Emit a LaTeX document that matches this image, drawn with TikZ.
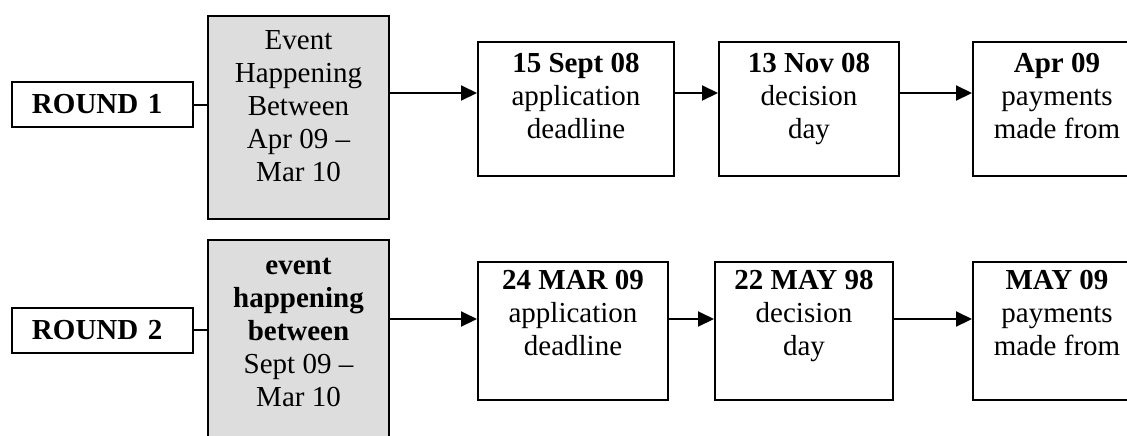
\documentclass[tikz,border=0pt]{standalone}
\usepackage{fontspec}
\setmainfont{Liberation Serif}
\usetikzlibrary{arrows.meta,positioning}
\definecolor{eventgrey}{RGB}{221,221,221}

\begin{document}
\begin{tikzpicture}[
  x=0.5pt, y=-0.5pt,
  font=\fontsize{14.5}{16.5}\selectfont,
  round/.style={draw, line width=1pt, minimum height=22.5pt, text width=70.5pt,
                inner xsep=10pt, inner ysep=0pt, align=left,
                font=\fontsize{14.5}{16.5}\selectfont\bfseries},
  event/.style={draw, line width=1pt, fill=eventgrey, minimum width=90.5pt,
                minimum height=101.5pt},
  datebox/.style={draw, line width=1pt, minimum height=67pt},
  boxtext/.style={align=center, inner sep=0pt, anchor=base},
  link/.style={line width=1pt},
  flow/.style={-{Triangle[length=8pt,width=7.5pt]}, line width=1pt}
]
  \useasboundingbox (0,0) rectangle (1127,435);

  % round 1 (text anchored on the baseline of its last line)
  \node[round] (r1) at (102.5,104.5) {ROUND 1};
  \node[event] (g1) at (298.5,117.5) {};
  \node[boxtext] (g1t) at ([yshift=-83pt]g1.north) {Event\\Happening\\Between\\Apr 09 --\\Mar 10};
  \node[datebox, minimum width=98pt] (a1) at (576,109) {};
  \node[boxtext] (a1t) at ([yshift=-48.5pt]a1.north) {\textbf{15 Sept 08}\\application\\deadline};
  \node[datebox, minimum width=90pt] (b1) at (809,109) {};
  \node[boxtext] (b1t) at ([yshift=-48.5pt]b1.north) {\textbf{13 Nov 08}\\decision\\day};
  \node[datebox, minimum width=84pt] (c1) at (1057,109) {};
  \node[boxtext] (c1t) at ([yshift=-48.5pt]c1.north) {\textbf{Apr 09}\\payments\\made from};
  \coordinate (in1) at ([yshift=8pt]a1.west);
  \draw[link] (r1.east) -- (r1.east -| g1.west);
  \draw[flow] (g1.east |- in1) -- (in1);
  \draw[flow] ([yshift=8pt]a1.east) -- ([yshift=8pt]b1.west);
  \draw[flow] ([yshift=8pt]b1.east) -- ([yshift=8pt]c1.west);

  % round 2
  \node[round] (r2) at (102.5,330) {ROUND 2};
  \node[event] (g2) at (298.5,341.5) {};
  \node[boxtext] (g2t) at ([yshift=-83.5pt]g2.north) {\textbf{event}\\\textbf{happening}\\\textbf{between}\\Sept 09 --\\Mar 10};
  \node[datebox, minimum width=95pt, minimum height=69pt] (a2) at (573,331) {};
  \node[boxtext] (a2t) at ([yshift=-47pt]a2.north) {\textbf{24 MAR 09}\\application\\deadline};
  \node[datebox, minimum width=89pt, minimum height=69pt] (b2) at (804,331) {};
  \node[boxtext] (b2t) at ([yshift=-47pt]b2.north) {\textbf{22 MAY 98}\\decision\\day};
  \node[datebox, minimum width=84pt, minimum height=69pt] (c2) at (1057,331) {};
  \node[boxtext] (c2t) at ([yshift=-47pt]c2.north) {\textbf{MAY 09}\\payments\\made from};
  \coordinate (in2) at ([yshift=6pt]a2.west);
  \draw[link] (r2.east) -- (r2.east -| g2.west);
  \draw[flow] (g2.east |- in2) -- (in2);
  \draw[flow] ([yshift=6pt]a2.east) -- ([yshift=6pt]b2.west);
  \draw[flow] ([yshift=6pt]b2.east) -- ([yshift=6pt]c2.west);
\end{tikzpicture}
\end{document}
